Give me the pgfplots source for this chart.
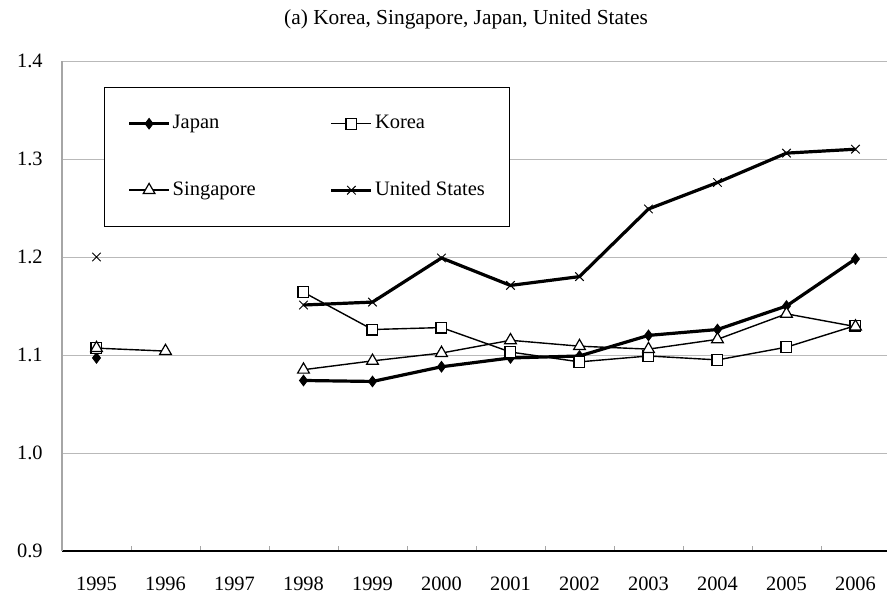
\documentclass[border=0pt]{standalone}
\usepackage{fontspec}
\setmainfont{Liberation Serif}
\usepackage{pgfplots}
\pgfplotsset{compat=1.18}
\begin{document}
\fontsize{10.2}{12}\selectfont
\begin{tikzpicture}
\path[use as bounding box] (0,0) rectangle (443.5pt,300pt);
\begin{axis}[
  at={(31pt,24.5pt)}, anchor=south west,
  scale only axis, width=412.5pt, height=245pt,
  xmin=-0.5, xmax=11.457, ymin=0.9, ymax=1.4,
  axis lines*=left,
  x axis line style={black, line width=0.7pt},
  y axis line style={gray!70, line width=0.6pt},
  tick align=inside,
  xtick={0,...,11},
  xticklabels={1995,1996,1997,1998,1999,2000,2001,2002,2003,2004,2005,2006},
  minor xtick={0.5,1.5,...,10.5},
  major tick length=0pt,
  minor tick length=2.5pt,
  minor tick style={gray!70, line width=0.4pt},
  ytick={0.9,1.0,1.1,1.2,1.3,1.4},
  ymajorgrids,
  major grid style={gray!55, line width=0.4pt},
  yticklabel style={inner sep=0pt, anchor=east, xshift=-9.5pt},
  xticklabel style={inner sep=0pt, anchor=north, yshift=-13pt},
  /pgf/number format/.cd, fixed, fixed zerofill, precision=1, assume math mode=true,
  /pgfplots/.cd,
  unbounded coords=jump,
  clip=false,
  legend columns=2,
  legend cell align=left,
  legend image code/.code={\draw[mark repeat=2,mark phase=2,#1] plot coordinates {(0pt,0pt) (10pt,0pt) (20pt,0pt)};},
  legend style={at={(0.0509,0.947)}, anchor=north west, draw=black, line width=0.5pt,
    inner xsep=11.5pt, inner ysep=12pt, row sep=20.8pt,
    nodes={inner xsep=1pt},
    font=\fontsize{10.25}{12}\selectfont,
    /tikz/every even column/.append style={column sep=36pt}},
]
\addplot[black, line width=1.6pt, mark=diamond*, mark size=2.6pt, mark options={solid, line width=0.5pt, fill=black}]
coordinates {(0,1.097) (1,nan) (2,nan) (3,1.074) (4,1.073) (5,1.088) (6,1.097) (7,1.099) (8,1.120) (9,1.126) (10,1.150) (11,1.198)};
\addlegendentry{Japan}
\addplot[black, line width=0.7pt, mark=square*, mark size=2.7pt, mark options={solid, line width=0.6pt, fill=white}]
coordinates {(0,1.107) (1,nan) (2,nan) (3,1.164) (4,1.126) (5,1.128) (6,1.103) (7,1.093) (8,1.099) (9,1.095) (10,1.108) (11,1.130)};
\addlegendentry{Korea}
\addplot[black, line width=0.7pt, mark=triangle*, mark size=3.4pt, mark options={solid, line width=0.6pt, fill=white}]
coordinates {(0,1.107) (1,1.104) (2,nan) (3,1.085) (4,1.094) (5,1.102) (6,1.115) (7,1.109) (8,1.106) (9,1.116) (10,1.142) (11,1.129)};
\addlegendentry{Singapore}
\addplot[black, line width=1.6pt, mark=x, mark size=3pt, mark options={solid, line width=0.5pt}]
coordinates {(0,1.200) (1,nan) (2,nan) (3,1.151) (4,1.154) (5,1.199) (6,1.171) (7,1.180) (8,1.249) (9,1.276) (10,1.306) (11,1.310)};
\addlegendentry{United States}
\end{axis}
\node[anchor=base, inner sep=0pt, font=\fontsize{10.7}{12}\selectfont] at (233pt,287.5pt) {(a) Korea, Singapore, Japan, United States};
\end{tikzpicture}
\end{document}
